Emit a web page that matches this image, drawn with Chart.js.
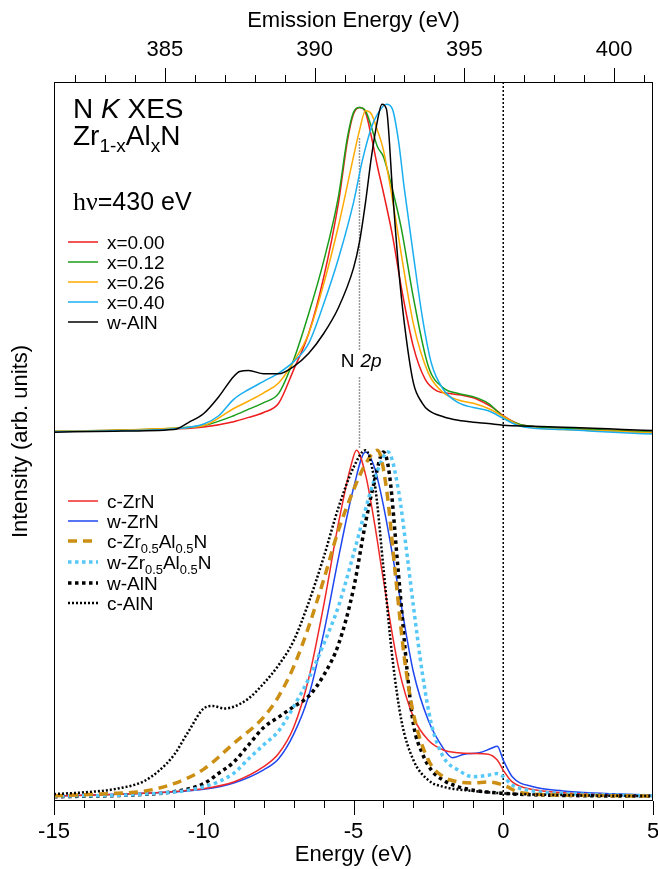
<!DOCTYPE html>
<html>
<head>
<meta charset="utf-8">
<script src="https://cdn.jsdelivr.net/npm/chart.js@4.4.1/dist/chart.umd.min.js"></script>
<style>
  html, body { margin: 0; padding: 0; background: #fff; }
</style>
</head>
<body>
<canvas id="xes" width="658" height="869"></canvas>
<script>
// ---- measured N K XES spectra (top), normalised intensity vs energy (eV) ----
const expE_x000 = [-15, -13, -11, -10, -9, -8.5, -8, -7.5, -7, -6.5, -6, -5.5, -5.2, -5, -4.8, -4.6, -4.4, -4.2, -4, -3.7, -3.4, -3, -2.6, -2.2, -1.8, -1.4, -1, -0.6, -0.3, 0, 0.5, 1, 2, 3, 4, 5];
const expI_x000 = [0.003, 0.005, 0.01, 0.016, 0.032, 0.045, 0.06, 0.088, 0.19, 0.3, 0.47, 0.7, 0.89, 0.97, 0.99, 0.975, 0.9, 0.81, 0.73, 0.6, 0.44, 0.26, 0.16, 0.125, 0.118, 0.113, 0.105, 0.088, 0.072, 0.05, 0.025, 0.017, 0.012, 0.008, 0.004, 0.0];

const expE_x012 = [-15, -13, -11, -10, -9, -8.5, -8, -7.5, -7, -6.5, -6, -5.5, -5.2, -5, -4.8, -4.6, -4.4, -4.2, -4, -3.7, -3.4, -3, -2.5, -2, -1.5, -1, -0.5, 0, 0.5, 1, 2, 3, 4, 5];
const expI_x012 = [0.004, 0.006, 0.012, 0.02, 0.05, 0.07, 0.09, 0.118, 0.22, 0.36, 0.52, 0.72, 0.9, 0.975, 0.99, 0.98, 0.93, 0.87, 0.84, 0.74, 0.62, 0.41, 0.2, 0.135, 0.118, 0.108, 0.088, 0.047, 0.025, 0.017, 0.012, 0.008, 0.004, 0.0];

const expE_x026 = [-15, -13, -11, -10, -9, -8.5, -8, -7.5, -7, -6.5, -6, -5.5, -5, -4.8, -4.6, -4.4, -4.2, -4, -3.7, -3.4, -3, -2.5, -2, -1.5, -1, -0.5, 0, 0.5, 1, 2, 3, 4, 5];
const expI_x026 = [0.004, 0.006, 0.012, 0.02, 0.072, 0.095, 0.12, 0.15, 0.215, 0.3, 0.45, 0.63, 0.84, 0.92, 0.98, 0.97, 0.92, 0.86, 0.71, 0.54, 0.33, 0.18, 0.12, 0.098, 0.088, 0.072, 0.048, 0.022, 0.013, 0.008, 0.005, 0.002, -0.003];

const expE_x040 = [-15, -13, -11, -10, -9.5, -9, -8.5, -8, -7.5, -7, -6.5, -6, -5.5, -5, -4.7, -4.4, -4.2, -3.9, -3.7, -3.5, -3.3, -3, -2.7, -2.4, -2, -1.5, -1, -0.5, 0, 0.5, 1, 2, 3, 4, 5];
const expI_x040 = [0.002, 0.004, 0.01, 0.025, 0.05, 0.1, 0.13, 0.155, 0.18, 0.215, 0.27, 0.39, 0.53, 0.7, 0.83, 0.93, 0.97, 1.0, 0.985, 0.89, 0.74, 0.54, 0.35, 0.21, 0.13, 0.09, 0.075, 0.065, 0.042, 0.02, 0.012, 0.008, 0.003, -0.002, -0.006];

const expE_wAlN = [-15, -13, -11, -10.5, -10, -9.5, -9, -8.8, -8.5, -8, -7.5, -7, -6.5, -6, -5.5, -5, -4.8, -4.6, -4.4, -4.2, -4.05, -3.9, -3.7, -3.5, -3.3, -3, -2.7, -2.5, -2, -1.5, -1, -0.5, 0, 1, 2, 3, 4, 5];
const expI_wAlN = [0.0, 0.003, 0.008, 0.03, 0.057, 0.108, 0.17, 0.185, 0.188, 0.178, 0.178, 0.2, 0.24, 0.3, 0.38, 0.5, 0.58, 0.7, 0.84, 0.95, 1.0, 0.985, 0.74, 0.505, 0.33, 0.15, 0.088, 0.067, 0.047, 0.036, 0.03, 0.026, 0.021, 0.018, 0.015, 0.012, 0.008, 0.005];

// ---- calculated spectra (bottom) ----
const calcE_cZrN = [-15, -12, -10, -9, -8, -7.5, -7, -6.5, -6, -5.5, -5.1, -4.9, -4.6, -4.3, -4, -3.5, -3, -2.5, -2, -1.5, -1, -0.5, -0.2, 0, 0.3, 1, 2, 3, 5];
const calcI_cZrN = [0.003, 0.01, 0.024, 0.043, 0.087, 0.125, 0.2, 0.34, 0.55, 0.79, 0.95, 1.0, 0.93, 0.79, 0.625, 0.375, 0.23, 0.163, 0.135, 0.127, 0.125, 0.123, 0.106, 0.077, 0.043, 0.021, 0.012, 0.007, 0.002];

const calcE_wZrN = [-15, -12, -10, -9, -8, -7.5, -7, -6.5, -6, -5.5, -5, -4.6, -4.3, -4, -3.5, -3, -2.5, -2, -1.7, -1.3, -0.8, -0.4, -0.2, 0, 0.3, 1, 2, 3, 5];
const calcI_wZrN = [0.002, 0.01, 0.022, 0.04, 0.078, 0.11, 0.18, 0.29, 0.47, 0.69, 0.89, 0.995, 0.95, 0.84, 0.6, 0.36, 0.22, 0.14, 0.113, 0.123, 0.127, 0.14, 0.146, 0.106, 0.058, 0.029, 0.017, 0.011, 0.005];

const calcE_cZrAlN = [-15, -13, -12, -11, -10, -9, -8, -7.5, -7, -6.5, -6, -5.5, -5, -4.6, -4.2, -3.9, -3.6, -3.3, -3, -2.5, -2, -1.5, -1, -0.5, 0, 0.5, 1, 3, 5];
const calcI_cZrAlN = [0.003, 0.01, 0.016, 0.038, 0.08, 0.154, 0.23, 0.29, 0.375, 0.49, 0.625, 0.77, 0.885, 0.96, 1.0, 0.89, 0.64, 0.4, 0.24, 0.106, 0.058, 0.043, 0.04, 0.043, 0.034, 0.014, 0.008, 0.004, 0.002];

const calcE_wZrAlN = [-15, -12, -10, -9, -8.5, -8, -7.5, -7, -6.5, -6, -5.5, -5, -4.5, -4.2, -3.85, -3.5, -3.2, -3, -2.7, -2.4, -2, -1.5, -1, -0.5, -0.2, 0, 0.3, 1, 2, 5];
const calcI_wZrAlN = [0.002, 0.008, 0.029, 0.068, 0.11, 0.15, 0.19, 0.26, 0.34, 0.44, 0.55, 0.7, 0.86, 0.94, 0.995, 0.885, 0.69, 0.55, 0.356, 0.21, 0.115, 0.077, 0.058, 0.0625, 0.067, 0.058, 0.034, 0.017, 0.01, 0.003];

const calcE_wAlN = [-15, -12, -11, -10, -9.5, -9, -8.5, -8, -7.5, -7, -6.5, -6, -5.5, -5, -4.6, -4.3, -4, -3.8, -3.5, -3.2, -3, -2.7, -2.4, -2, -1.5, -1, 0, 1, 3, 5];
const calcI_wAlN = [0.0, 0.007, 0.015, 0.038, 0.068, 0.1, 0.15, 0.2, 0.23, 0.26, 0.29, 0.35, 0.44, 0.6, 0.79, 0.91, 0.995, 0.93, 0.645, 0.356, 0.21, 0.125, 0.077, 0.048, 0.029, 0.019, 0.01, 0.006, 0.003, 0.002];

const calcE_cAlN = [-15, -14, -13, -12, -11.5, -11, -10.5, -10, -9.7, -9.3, -9, -8.5, -8, -7.5, -7, -6.5, -6, -5.5, -5, -4.6, -4.3, -4, -3.7, -3.4, -3, -2.5, -2, -1, 0, 2, 5];
const calcI_cAlN = [0.008, 0.013, 0.022, 0.045, 0.075, 0.12, 0.19, 0.255, 0.262, 0.255, 0.26, 0.284, 0.327, 0.38, 0.45, 0.56, 0.69, 0.835, 0.95, 1.0, 0.91, 0.66, 0.4, 0.22, 0.106, 0.048, 0.029, 0.017, 0.01, 0.005, 0.002];

// axis ticks / reference marks
const energyTicks = [-15, -10, -5, 0, 5];
const emissionTicks = [385, 390, 395, 400];
const emissionAtZero = 396.3;     // emission energy that corresponds to E = 0
const fermiE = 0;
const n2pE = -4.8;
const n2pSegments = [[1.90, 1.29], [1.21, 1.006]];

// vertical placement of the two panels (in y-axis units)
const CALC_OFFSET = 0, CALC_GAIN = 1;
const EXP_OFFSET = 1.052, EXP_GAIN = 0.946;

const FONT = "'Liberation Sans', Arial, Helvetica, sans-serif";
Chart.defaults.font.family = FONT;
Chart.defaults.color = '#000';

function curve(label, e, i, color, width, dash, offset, gain) {
  return {
    label: label,
    data: e.map((x, k) => ({ x: x, y: offset + gain * i[k] })),
    borderColor: color,
    borderWidth: width,
    borderDash: dash,
    pointRadius: 0,
    fill: false,
    cubicInterpolationMode: 'monotone'
  };
}

const datasets = [
  curve('c-AlN', calcE_cAlN, calcI_cAlN, '#000000', 2.5, [2, 2], CALC_OFFSET, CALC_GAIN),
  curve('c-ZrAlN', calcE_cZrAlN, calcI_cZrAlN, '#cc8f14', 3.5, [9, 6], CALC_OFFSET, CALC_GAIN),
  curve('w-ZrAlN', calcE_wZrAlN, calcI_wZrAlN, '#55c8f8', 3.5, [3.5, 3.5], CALC_OFFSET, CALC_GAIN),
  curve('w-AlN calc', calcE_wAlN, calcI_wAlN, '#000000', 3.5, [3.5, 3.5], CALC_OFFSET, CALC_GAIN),
  curve('c-ZrN', calcE_cZrN, calcI_cZrN, '#f02828', 1.5, [], CALC_OFFSET, CALC_GAIN),
  curve('w-ZrN', calcE_wZrN, calcI_wZrN, '#1e46f0', 1.5, [], CALC_OFFSET, CALC_GAIN),
  curve('w-AlN', expE_wAlN, expI_wAlN, '#000000', 1.5, [], EXP_OFFSET, EXP_GAIN),
  curve('x=0.40', expE_x040, expI_x040, '#1aaef0', 1.5, [], EXP_OFFSET, EXP_GAIN),
  curve('x=0.26', expE_x026, expI_x026, '#ffaa00', 1.5, [], EXP_OFFSET, EXP_GAIN),
  curve('x=0.12', expE_x012, expI_x012, '#1a9e1a', 1.5, [], EXP_OFFSET, EXP_GAIN),
  curve('x=0.00', expE_x000, expI_x000, '#ee1c1c', 1.5, [], EXP_OFFSET, EXP_GAIN)
];

const topLegend = [
  ['x=0.00', [['x=0.00', '']]],
  ['x=0.12', [['x=0.12', '']]],
  ['x=0.26', [['x=0.26', '']]],
  ['x=0.40', [['x=0.40', '']]],
  ['w-AlN', [['w-AlN', '']]]
];
const bottomLegend = [
  ['c-ZrN', [['c-ZrN', '']]],
  ['w-ZrN', [['w-ZrN', '']]],
  ['c-ZrAlN', [['c-Zr', ''], ['0.5', 'sub'], ['Al', ''], ['0.5', 'sub'], ['N', '']]],
  ['w-ZrAlN', [['w-Zr', ''], ['0.5', 'sub'], ['Al', ''], ['0.5', 'sub'], ['N', '']]],
  ['w-AlN calc', [['w-AlN', '']]],
  ['c-AlN', [['c-AlN', '']]]
];

function richText(ctx, parts, x, y, size, family) {
  for (const [t, kind] of parts) {
    const sub = kind === 'sub';
    const fs = sub ? size * 0.68 : size;
    ctx.font = (kind === 'it' ? 'italic ' : '') + fs + 'px ' + (family || FONT);
    ctx.fillText(t, x, sub ? y + size * 0.24 : y);
    x += ctx.measureText(t).width;
  }
  return x;
}

// horizontal axes: no extra room for edge labels, fixed band heights
const fixBand = (h) => (s) => { s.height = h; s.paddingLeft = 0; s.paddingRight = 0; };

const decor = {
  id: 'decor',
  beforeDatasetsDraw(chart) {
    const { ctx, chartArea: a, scales: { x, y } } = chart;
    ctx.save();
    ctx.lineWidth = 1.5;
    ctx.strokeStyle = '#000';
    ctx.setLineDash([2, 2]);
    const fx = x.getPixelForValue(fermiE);
    ctx.beginPath();
    ctx.moveTo(fx, a.top);
    ctx.lineTo(fx, a.bottom);
    ctx.stroke();
    ctx.strokeStyle = '#777';
    ctx.setLineDash([1.5, 1.5]);
    const nx = x.getPixelForValue(n2pE);
    for (const [y0, y1] of n2pSegments) {
      ctx.beginPath();
      ctx.moveTo(nx, y.getPixelForValue(y0));
      ctx.lineTo(nx, y.getPixelForValue(y1));
      ctx.stroke();
    }
    ctx.restore();
  },
  afterDraw(chart) {
    const { ctx, chartArea: a, scales: { x, x2 } } = chart;
    ctx.save();
    // frame
    ctx.strokeStyle = '#000';
    ctx.lineWidth = 1;
    ctx.strokeRect(a.left + 0.5, a.top + 0.5, a.right - a.left - 1, a.bottom - a.top - 1);
    // tick marks, major every 5 eV, minor every 1 eV
    ctx.beginPath();
    for (let v = -15; v <= 5; v++) {
      const px = Math.round(x.getPixelForValue(v)) + 0.5;
      const len = v % 5 === 0 ? 14 : 7;
      ctx.moveTo(px, a.bottom);
      ctx.lineTo(px, a.bottom + len);
    }
    for (let v = Math.ceil(x2.min); v <= x2.max; v++) {
      const px = Math.round(x2.getPixelForValue(v)) + 0.5;
      const len = v % 5 === 0 ? 14 : 7;
      ctx.moveTo(px, a.top);
      ctx.lineTo(px, a.top - len);
    }
    ctx.stroke();

    // labels inside the plot
    ctx.fillStyle = '#000';
    ctx.textBaseline = 'alphabetic';
    ctx.textAlign = 'left';
    richText(ctx, [['N ', ''], ['K', 'it'], [' XES', '']], 73, 118, 28);
    richText(ctx, [['Zr', ''], ['1-x', 'sub'], ['Al', ''], ['x', 'sub'], ['N', '']], 73, 145, 28);
    let hx = richText(ctx, [['hν', '']], 73, 210, 26, "'Liberation Serif', 'Times New Roman', serif");
    richText(ctx, [['=430 eV', '']], hx, 210, 25);

    const nx = x.getPixelForValue(n2pE);
    ctx.font = '19px ' + FONT;
    ctx.textAlign = 'right';
    ctx.fillText('N', nx - 5, 367);
    ctx.textAlign = 'left';
    ctx.font = 'italic 19px ' + FONT;
    ctx.fillText('2p', nx + 1, 367);

    // legends
    const drawLegend = (entries, rows) => {
      entries.forEach(([key, parts], k) => {
        const ds = chart.data.datasets.find(d => d.label === key);
        const ry = rows[k];
        ctx.strokeStyle = ds.borderColor;
        ctx.lineWidth = ds.borderWidth;
        ctx.setLineDash(ds.borderDash || []);
        ctx.beginPath();
        ctx.moveTo(68, ry);
        ctx.lineTo(98, ry);
        ctx.stroke();
        ctx.fillStyle = '#000';
        richText(ctx, parts, 107, ry + 7, 19);
      });
      ctx.setLineDash([]);
    };
    drawLegend(topLegend, [242, 262, 282, 302, 322]);
    drawLegend(bottomLegend, [501, 521, 541, 562, 583, 603]);
    ctx.restore();
  }
};

new Chart(document.getElementById('xes'), {
  type: 'line',
  data: { datasets: datasets },
  options: {
    responsive: false,
    animation: false,
    layout: { padding: { left: 0, right: 5, top: 0, bottom: 0 } },
    plugins: { legend: { display: false }, tooltip: { enabled: false } },
    scales: {
      x: {
        type: 'linear',
        position: 'bottom',
        min: -15,
        max: 5,
        afterBuildTicks: (s) => { s.ticks = energyTicks.map(v => ({ value: v })); },
        afterFit: fixBand(68),
        grid: { display: true, drawOnChartArea: false, drawTicks: false },
        border: { display: false },
        ticks: { padding: 18, maxRotation: 0, font: { size: 22 } },
        title: { display: true, text: 'Energy (eV)', font: { size: 22 }, padding: { top: 0, bottom: 1 } }
      },
      x2: {
        type: 'linear',
        position: 'top',
        min: -15 + emissionAtZero,
        max: 5 + emissionAtZero,
        afterBuildTicks: (s) => { s.ticks = emissionTicks.map(v => ({ value: v })); },
        afterFit: fixBand(82),
        grid: { display: true, drawOnChartArea: false, drawTicks: false },
        border: { display: false },
        ticks: { padding: 19, maxRotation: 0, font: { size: 22 } },
        title: { display: true, text: 'Emission Energy (eV)', font: { size: 22 }, padding: { top: 8, bottom: 0 } }
      },
      y: {
        type: 'linear',
        min: -0.012,
        max: 2.062,
        afterFit: (s) => { s.width = 54; },
        grid: { display: false },
        border: { display: false },
        ticks: { display: false },
        title: { display: true, text: 'Intensity (arb. units)', font: { size: 22 }, padding: { top: 8, bottom: 0 } }
      }
    }
  },
  plugins: [decor]
});
</script>
</body>
</html>
